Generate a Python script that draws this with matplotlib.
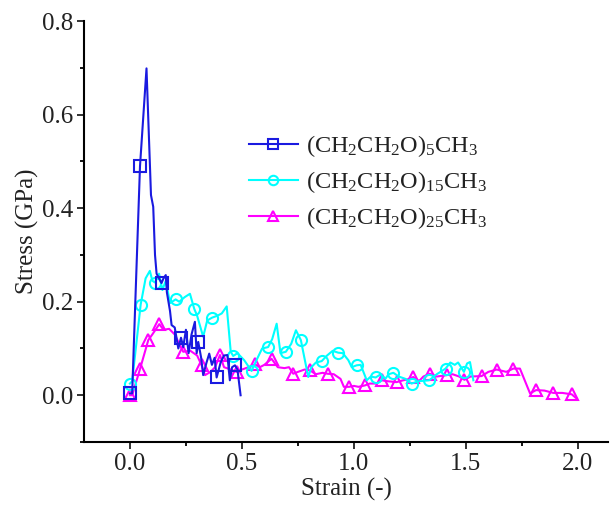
import matplotlib
matplotlib.use("Agg")
import matplotlib.pyplot as plt
from matplotlib.ticker import MultipleLocator

plt.rcParams["font.family"] = ["Liberation Serif", "DejaVu Serif"]
plt.rcParams["mathtext.fontset"] = "custom"
plt.rcParams["mathtext.rm"] = "Liberation Serif"
plt.rcParams["mathtext.it"] = "Liberation Serif:italic"

# ---- data ----
x_b = [0, 0.01, 0.045, 0.074, 0.094, 0.104, 0.112, 0.119, 0.13, 0.141, 0.15, 0.16, 0.165,
       0.179, 0.186, 0.2, 0.216, 0.228, 0.238, 0.25, 0.262, 0.275, 0.29, 0.298, 0.305,
       0.318, 0.327, 0.342, 0.354, 0.366, 0.378, 0.387, 0.405, 0.42, 0.435, 0.446, 0.456,
       0.469, 0.48, 0.494]
y_b = [0.004, 0.004, 0.49, 0.699, 0.428, 0.403, 0.30, 0.26, 0.25, 0.24, 0.25, 0.257, 0.22,
       0.18, 0.15, 0.145, 0.10, 0.123, 0.103, 0.14, 0.09, 0.13, 0.157, 0.09, 0.114,
       0.08, 0.043, 0.07, 0.089, 0.065, 0.08, 0.038, 0.07, 0.085, 0.086, 0.032, 0.06,
       0.064, 0.055, 0.0]
mark_b = [0, 2, 9, 17, 24, 31, 37]

x_c = [0, 0.01, 0.048, 0.07, 0.089, 0.1, 0.112, 0.13, 0.145, 0.16, 0.179, 0.204, 0.22,
       0.245, 0.268, 0.287, 0.3, 0.327, 0.345, 0.367, 0.39, 0.41, 0.432, 0.45, 0.461,
       0.48, 0.51, 0.543, 0.56, 0.59, 0.617, 0.635, 0.655, 0.672, 0.696, 0.72, 0.741,
       0.763, 0.796, 0.81, 0.83, 0.856, 0.88, 0.905, 0.93, 0.95, 0.975, 0.99, 1.012,
       1.03, 1.057, 1.075, 1.097, 1.12, 1.14, 1.155, 1.176, 1.2, 1.23, 1.257, 1.29,
       1.336, 1.37, 1.409, 1.43, 1.45, 1.465, 1.491, 1.505, 1.518, 1.533]
y_c = [0.025, 0.03, 0.194, 0.25, 0.266, 0.245, 0.241, 0.26, 0.225, 0.245, 0.197, 0.205, 0.20,
       0.21, 0.217, 0.185, 0.17, 0.125, 0.16, 0.166, 0.17, 0.175, 0.19, 0.093, 0.084,
       0.09, 0.075, 0.052, 0.07, 0.10, 0.103, 0.12, 0.153, 0.09, 0.093, 0.11, 0.139,
       0.118, 0.039, 0.06, 0.07, 0.073, 0.085, 0.095, 0.091, 0.09, 0.075, 0.06, 0.064,
       0.065, 0.032, 0.04, 0.038, 0.045, 0.035, 0.045, 0.048, 0.04, 0.035, 0.025, 0.03,
       0.032, 0.045, 0.057, 0.07, 0.065, 0.07, 0.05, 0.068, 0.071, 0.032]
mark_c = [0, 2, 6, 11, 15, 19, 24, 27, 30, 34, 37, 41, 44, 48, 52, 56, 59, 61, 63, 67]

x_m = [0, 0.01, 0.045, 0.082, 0.1, 0.131, 0.15, 0.175, 0.2, 0.22, 0.238, 0.27, 0.3, 0.32,
       0.335, 0.36, 0.38, 0.402, 0.42, 0.45, 0.476, 0.5, 0.53, 0.558, 0.58, 0.6, 0.632,
       0.66, 0.69, 0.71, 0.729, 0.75, 0.78, 0.804, 0.83, 0.86, 0.882, 0.91, 0.94, 0.955,
       0.978, 1.0, 1.02, 1.049, 1.07, 1.1, 1.124, 1.15, 1.19, 1.22, 1.24, 1.265, 1.29,
       1.31, 1.339, 1.37, 1.414, 1.44, 1.47, 1.493, 1.52, 1.57, 1.6, 1.637, 1.68, 1.711,
       1.741, 1.786, 1.813, 1.85, 1.89, 1.93, 1.972, 1.994]
y_m = [0, 0, 0.056, 0.118, 0.13, 0.152, 0.14, 0.142, 0.13, 0.11, 0.093, 0.095, 0.085, 0.064,
       0.043, 0.05, 0.06, 0.086, 0.06, 0.055, 0.05, 0.055, 0.06, 0.066, 0.06, 0.065, 0.078,
       0.06, 0.058, 0.06, 0.046, 0.05, 0.055, 0.053, 0.045, 0.048, 0.046, 0.045, 0.035, 0.018,
       0.018, 0.02, 0.018, 0.021, 0.025, 0.025, 0.032, 0.03, 0.028, 0.032, 0.034, 0.039, 0.03,
       0.04, 0.046, 0.04, 0.043, 0.045, 0.04, 0.033, 0.04, 0.041, 0.05, 0.055, 0.05, 0.057,
       0.057, 0.004, 0.011, 0.01, 0.005, 0.005, 0.002, -0.007]
mark_m = [0, 2, 3, 5, 10, 13, 17, 20, 23, 26, 30, 33, 36, 40, 43, 46, 48, 51, 54, 56, 59,
          61, 63, 65, 68, 70, 72]

labels = [r"(CH$_{\mathrm{2}}$CH$_{\mathrm{2}}$O)$_{\mathrm{5}}$CH$_{\mathrm{3}}$",
          r"(CH$_{\mathrm{2}}$CH$_{\mathrm{2}}$O)$_{\mathrm{15}}$CH$_{\mathrm{3}}$",
          r"(CH$_{\mathrm{2}}$CH$_{\mathrm{2}}$O)$_{\mathrm{25}}$CH$_{\mathrm{3}}$"]

fig = plt.figure(figsize=(6.1, 5.16), dpi=100)
ax = fig.add_axes([0.1377, 0.1434, 0.859, 0.8156])

common = dict(linewidth=1.5, markersize=8, markerfacecolor="none", markeredgewidth=1.5)
ax.plot(x_m, y_m, color="#ff00ff", marker="^", markevery=mark_m, label=labels[2],
        zorder=2, **common)
ax.plot(x_c, y_c, color="#00ffff", marker="o", markevery=mark_c, label=labels[1],
        zorder=3, **common)
ax.plot(x_b, y_b, color="#1a1ae0", marker="s", markevery=mark_b, label=labels[0],
        zorder=4, **common)

ax.set_xlim(-0.205, 2.134)
ax.set_ylim(-0.1, 0.8)
ax.xaxis.set_minor_locator(MultipleLocator(0.25))
ax.yaxis.set_minor_locator(MultipleLocator(0.1))
ax.set_xticks([0, 0.5, 1.0, 1.5, 2.0])
ax.set_yticks([0, 0.2, 0.4, 0.6, 0.8])
ax.set_xticklabels(["0.0", "0.5", "1.0", "1.5", "2.0"])
ax.set_yticklabels(["0.0", "0.2", "0.4", "0.6", "0.8"])

for side in ["top", "right"]:
    ax.spines[side].set_visible(False)
for side in ["left", "bottom"]:
    ax.spines[side].set_linewidth(1.5)
ax.tick_params(which="major", direction="out", length=5, width=1.3, labelsize=18,
               colors="#222222", pad=3)
ax.tick_params(which="minor", direction="out", length=3, width=1.3)

ax.set_xlabel("Strain (-)", fontsize=18, color="#222222", labelpad=2)
ax.set_ylabel("Stress (GPa)", fontsize=18, color="#222222", labelpad=2)

handles, labs = ax.get_legend_handles_labels()
leg = ax.legend(handles[::-1], labs[::-1], loc="upper left", bbox_to_anchor=(0.273, 0.786),
                frameon=False, fontsize=17.5, handlelength=2.0, handletextpad=0.33,
                labelspacing=0.42, markerscale=0.85, numpoints=1)
for h in leg.legend_handles:
    h.set_markevery([1])
for t in leg.get_texts():
    t.set_color("#222222")

fig.savefig("out.png", dpi=100)
